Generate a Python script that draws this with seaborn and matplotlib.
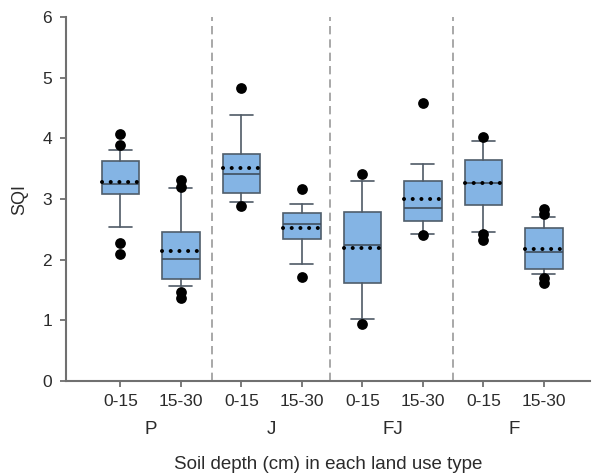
import numpy as np
import pandas as pd
import matplotlib
matplotlib.use("Agg")
import matplotlib.pyplot as plt
import seaborn as sns

# Box summaries (SigmaPlot style: box 25-75, whiskers 10-90, dots beyond)
groups = ["P", "J", "FJ", "F"]
depths = ["0-15", "15-30"]
q1 = [3.09, 1.68, 3.10, 2.34, 1.62, 2.64, 2.90, 1.85]
median = [3.25, 2.01, 3.41, 2.58, 2.25, 2.86, 3.27, 2.12]
q3 = [3.62, 2.46, 3.74, 2.77, 2.79, 3.29, 3.64, 2.52]
whis_lo = [2.54, 1.57, 2.95, 1.93, 1.02, 2.43, 2.46, 1.76]
whis_hi = [3.81, 3.18, 4.39, 2.92, 3.30, 3.58, 3.96, 2.71]
means = [3.28, 2.15, 3.51, 2.52, 2.19, 3.00, 3.27, 2.17]
outliers = [
    [4.07, 3.89, 2.28, 2.10],
    [3.31, 3.19, 1.47, 1.37],
    [4.83, 2.88],
    [3.17, 1.72],
    [3.41, 0.94],
    [4.58, 2.41],
    [4.03, 2.43, 2.33],
    [2.83, 2.76, 1.69, 1.61],
]
dividers = [1.52, 3.46, 5.5]

sns.set_theme(style="ticks")
plt.rcParams["font.family"] = ["Liberation Sans", "DejaVu Sans"]
TXT = "#2B2B2B"

fig = plt.figure(figsize=(5.92, 4.73), dpi=100)
ax = fig.add_axes([0.1115, 0.1945, 0.885, 0.7695])

positions = np.arange(len(q1))
stats = []
for i in positions:
    stats.append({"q1": q1[i], "med": median[i], "q3": q3[i],
                  "whislo": whis_lo[i], "whishi": whis_hi[i],
                  "mean": means[i], "fliers": []})

ax.bxp(stats, positions=positions, widths=0.62, patch_artist=True,
       showmeans=True, meanline=True, showfliers=False,
       boxprops=dict(facecolor="#84B4E4", edgecolor="#4F5D6B", linewidth=1.2),
       medianprops=dict(color="#3F4E5E", linewidth=1.2),
       meanprops=dict(color="black", linewidth=2.9, linestyle=(0, (0.01, 2.15)),
                      dash_capstyle="round"),
       whiskerprops=dict(color="#4F5A66", linewidth=1.2),
       capprops=dict(color="#4F5A66", linewidth=1.2),
       capwidths=0.38)

fl = pd.DataFrame({"pos": [p for p, vals in zip(positions, outliers) for _ in vals],
                   "val": [v for vals in outliers for v in vals]})
sns.scatterplot(data=fl, x="pos", y="val", ax=ax, color="black", s=60,
                edgecolor="black", linewidth=0, zorder=5, legend=False)

for d in dividers:
    ax.axvline(d, color="#9A9A9A", linestyle=(0, (5, 3)), linewidth=1.2, zorder=0)

ax.set_xlim(-0.9, 7.76)
ax.set_ylim(0, 6)
ax.set_yticks(range(0, 7))
ax.set_xticks(positions)
ax.set_xticklabels(depths * len(groups))
ax.tick_params(axis="both", labelsize=12.5, color="#707070", width=1.3, length=4,
               direction="out", labelcolor=TXT)
ax.tick_params(axis="y", pad=6)
ax.tick_params(axis="x", pad=5)
for s in ["left", "bottom"]:
    ax.spines[s].set_color("#707070")
    ax.spines[s].set_linewidth(1.5)
sns.despine(ax=ax)

for k, g in enumerate(groups):
    ax.text(2 * k + 0.5, -0.8, g, ha="center", va="center", fontsize=13.5,
            transform=ax.transData, color=TXT)

ax.set_ylabel("SQI", fontsize=13, labelpad=10, color=TXT)
ax.set_xlabel("Soil depth (cm) in each land use type", fontsize=13.5,
              labelpad=34, color=TXT)

fig.savefig("out.png", dpi=100)
